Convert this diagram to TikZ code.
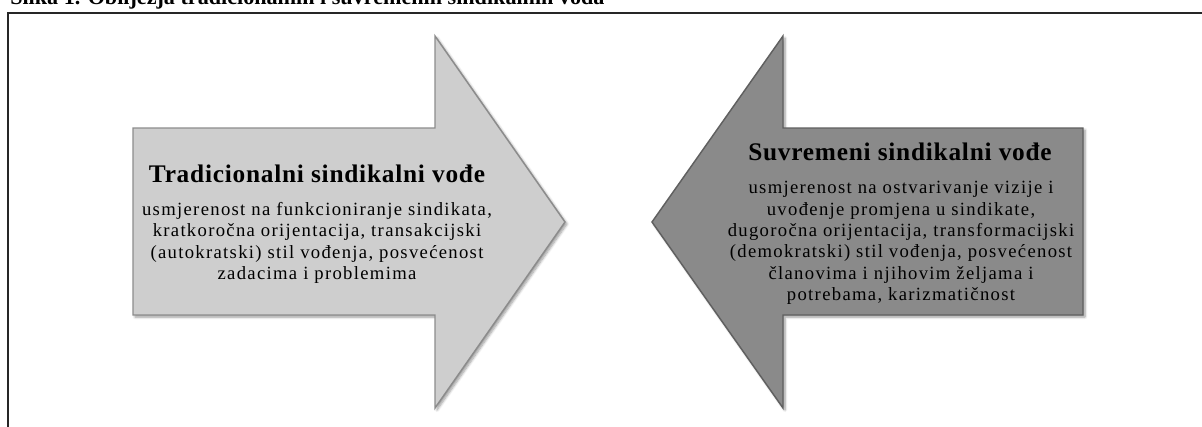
\documentclass[tikz,border=0pt]{standalone}
\usepackage{fontspec}
\setmainfont{Liberation Serif}
\newfontfamily\spacedserif[LetterSpace=7]{Liberation Serif}
\newfontfamily\spacedbold[LetterSpace=3]{Liberation Serif Bold}
\usetikzlibrary{shadows.blur}
\definecolor{tradfill}{RGB}{206,206,206}
\definecolor{tradedge}{RGB}{140,140,140}
\definecolor{modfill}{RGB}{138,138,138}
\definecolor{modedge}{RGB}{96,96,96}
\begin{document}
\begin{tikzpicture}[
                x = 0.75pt, y = -0.75pt,
                arrowshape/.style = {line width = 1.1pt, line join = miter,
                    blur shadow = {shadow xshift = 1.5pt, shadow yshift = -1.5pt, shadow blur steps = 6}},
                headtext/.style = {font = \fontsize{19}{22}\spacedbold, inner sep = 0pt},
                bodytext/.style = {font = \fontsize{14}{16.1}\spacedserif, align = center, inner sep = 0pt},
            ]
            \clip (0,0) rectangle (1202,426);

            % caption, cut off at the top
            \node (caption) [anchor = base west, inner sep = 0pt,
                font = \fontsize{16.6}{19}\selectfont\bfseries] at (10,4.5)
                {Slika 1. Obilježja tradicionalnih i suvremenih sindikalnih vođa};

            % frame
            \draw[line width = 1.5pt, black!85] (8,430) -- (8,13) -- (1210,13);

            % left arrow
            \path[arrowshape, fill = tradfill, draw = tradedge]
                (133,128) -- (435,128) -- (435,36) -- (565,222)
                -- (435,408) -- (435,315) -- (133,315) -- cycle;
            % right arrow
            \path[arrowshape, fill = modfill, draw = modedge]
                (1083,128) -- (783,128) -- (783,36) -- (652,222)
                -- (783,408) -- (783,315) -- (1083,315) -- cycle;

            \node (trad) [headtext] at (317,174) {Tradicionalni sindikalni vođe};
            \node (tradbody) [bodytext] at (317,243)
                {usmjerenost na funkcioniranje sindikata,\\
                 kratkoročna orijentacija, transakcijski\\
                 (autokratski) stil vođenja, posvećenost\\
                 zadacima i problemima};

            \node (mod) [headtext] at (900,152) {Suvremeni sindikalni vođe};
            \node (modbody) [bodytext] at (901,243)
                {usmjerenost na ostvarivanje vizije i\\
                 uvođenje promjena u sindikate,\\
                 dugoročna orijentacija, transformacijski\\
                 (demokratski) stil vođenja, posvećenost\\
                 članovima i njihovim željama i\\
                 potrebama, karizmatičnost};
        \end{tikzpicture}
\end{document}
